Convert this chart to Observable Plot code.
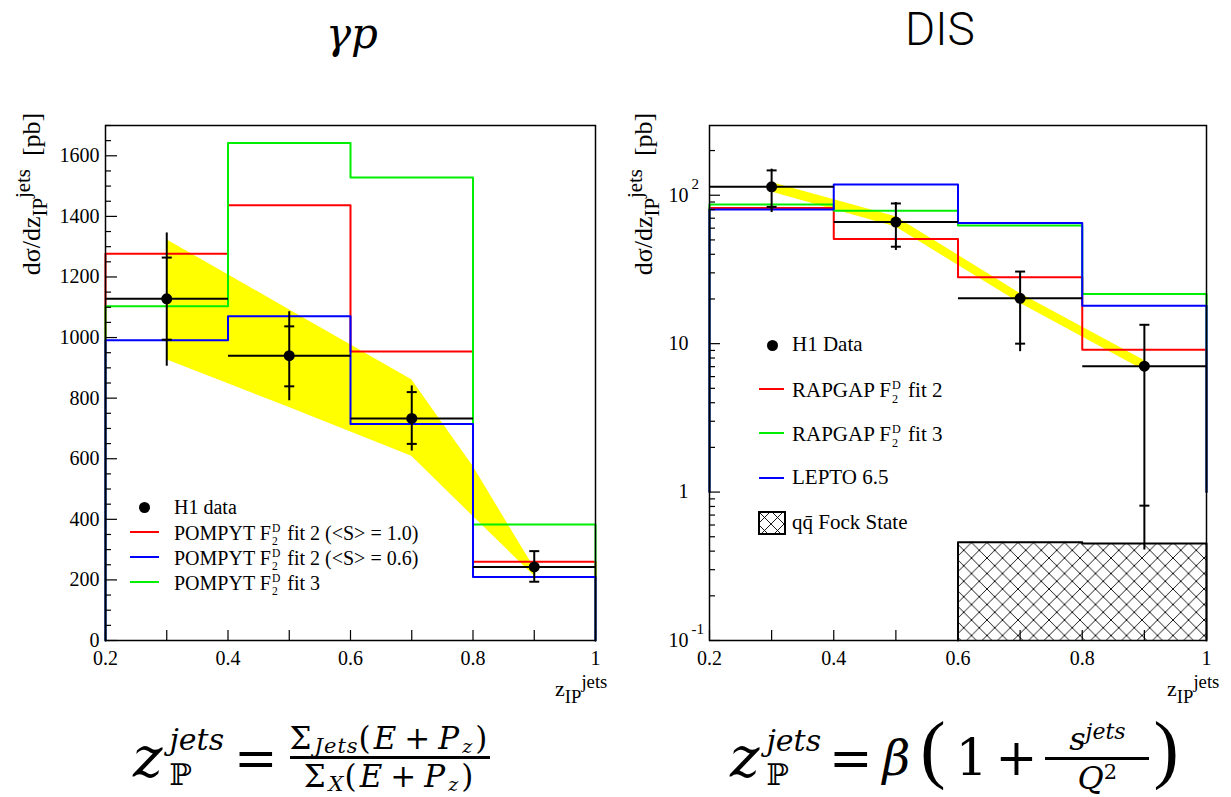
<!DOCTYPE html>
<html><head><meta charset="utf-8">
<script src="https://cdn.jsdelivr.net/npm/d3@7"></script>
<script src="https://cdn.jsdelivr.net/npm/@observablehq/plot@0.6"></script>
<style>
html,body{margin:0;padding:0;background:#fff;}
body{width:1231px;height:797px;overflow:hidden;position:relative;font-family:"Liberation Serif","Times New Roman",serif;color:#000;}
svg text{font-family:"Liberation Serif","Times New Roman",serif !important;}
.abs{position:absolute;white-space:nowrap;line-height:1;}
.ss{display:inline-flex;flex-direction:column;vertical-align:middle;font-size:0.58em;line-height:1.15;margin:0 2px 0 1px;}
.ytitle{font-size:26px;transform:translate(-50%,-50%) rotate(-90deg);}
.ytitle sub{font-size:0.8em;vertical-align:-0.35em;line-height:0;}
.ytitle sup{font-size:0.8em;vertical-align:0.5em;line-height:0;}
.xtitle{font-size:22px;}
.xtitle sub{font-size:0.85em;vertical-align:-0.4em;line-height:0;}
.xtitle sup{font-size:0.85em;vertical-align:0.45em;line-height:0;}
.formula{font-family:"DejaVu Serif",serif;display:flex;align-items:center;line-height:1;}
.formula i{font-style:italic;}
.formula sub,.formula sup{line-height:0;}
.frac{display:inline-flex;flex-direction:column;align-items:center;}
.frac .bar{height:3px;background:#000;align-self:stretch;margin:2px 0;}
.zsym{display:inline-flex;align-items:center;}
.zss{display:inline-flex;flex-direction:column;line-height:1.15;margin-left:7px;}
.paren{font-family:"Liberation Serif",serif;font-size:76px;position:relative;top:-10px;}
</style></head><body>
<script>
// ---------------- data ----------------
const binEdges = [0.2, 0.4, 0.6, 0.8, 1.0];
const binCenters = [0.3, 0.5, 0.7, 0.9];
const xTickLabels = ["0.2", "0.4", "0.6", "0.8", "1"];
const xTickLabelValues = [0.2, 0.4, 0.6, 0.8, 1.0];

// gamma p panel (linear)
const gpData    = [1128, 940, 733, 243];
const gpStatLo  = [993, 839, 649, 194];
const gpStatHi  = [1264, 1037, 820, 295];
const gpTotLo   = [907, 793, 627, 194];
const gpTotHi   = [1347, 1087, 842, 295];
const gpFit2S10 = [1277, 1437, 954, 260];
const gpFit2S06 = [991, 1070, 715, 210];
const gpFit3    = [1103, 1642, 1528, 383];
const gpBandX   = [0.3, 0.5, 0.7, 0.8, 0.9];
const gpBandLo  = [927, 769, 608, 410, 213];
const gpBandHi  = [1323, 1092, 861, 575, 240];
const gpYTicks  = [0, 200, 400, 600, 800, 1000, 1200, 1400, 1600];

// DIS panel (log)
const disData   = [114, 66, 20.2, 7.05];
const disStatLo = [83.5, 45, 10.0, 0.81];
const disStatHi = [147, 88, 30.6, 13.4];
const disTotLo  = [77, 42.8, 8.9, 0.41];
const disTotHi  = [151, 90, 30.8, 13.4];
const disFit2   = [82, 50.7, 28.0, 9.1];
const disFit3   = [86.6, 78.5, 62.5, 21.6];
const disLepto  = [80.1, 118, 65, 18.0];
const disBandX  = [0.3, 0.5, 0.7, 0.9];
const disBandLo = [105, 61, 18.7, 6.6];
const disBandHi = [122, 71.5, 21.8, 7.7];
const fockEdges = [0.6, 0.8, 1.0];
const fockVals  = [0.46, 0.45];
const logTickVals = [0.1, 1, 10, 100];
const logTickBase = ["10", "1", "10", "10"];
const logTickExp  = ["-1", "", "", "2"];

const gpLegend = ["H1 data", "POMPYT F_2^D fit 2 (<S> = 1.0)", "POMPYT F_2^D fit 2 (<S> = 0.6)", "POMPYT F_2^D fit 3"];
const disLegend = ["H1 Data", "RAPGAP F_2^D fit 2", "RAPGAP F_2^D fit 3", "LEPTO 6.5", "qq̄ Fock State"];
const colRed = "#ff0000", colGreen = "#00ee00", colBlue = "#0000ff", colYellow = "#ffff00";
const SERIF = "Liberation Serif";

// ---------------- helpers ----------------
function histPath(vals, base) {
  const pts = [{x: binEdges[0], y: base}];
  vals.forEach((v, i) => { pts.push({x: binEdges[i], y: v}); pts.push({x: binEdges[i + 1], y: v}); });
  pts.push({x: binEdges[binEdges.length - 1], y: base});
  return pts;
}
function pointRows(v, sLo, sHi, tLo, tHi) {
  return binCenters.map((x, i) => ({x, lo: binEdges[i], hi: binEdges[i + 1], v: v[i], sLo: sLo[i], sHi: sHi[i], tLo: tLo[i], tHi: tHi[i]}));
}
const capSymbol = {draw(ctx, size) { const w = Math.sqrt(size / Math.PI); ctx.moveTo(-w, 0); ctx.lineTo(w, 0); }};
function dataMarks(rows) {
  return [
    Plot.link(rows, {x1: "x", x2: "x", y1: "tLo", y2: "tHi", stroke: "black", strokeWidth: 2}),
    Plot.link(rows, {x1: "lo", x2: "hi", y1: "v", y2: "v", stroke: "black", strokeWidth: 2}),
    Plot.dot(rows, {x: "x", y: "sLo", symbol: capSymbol, r: 5, stroke: "black", strokeWidth: 2, fill: "none"}),
    Plot.dot(rows, {x: "x", y: "sHi", symbol: capSymbol, r: 5, stroke: "black", strokeWidth: 2, fill: "none"}),
    Plot.dot(rows, {x: "x", y: "v", r: 5.5, fill: "black", stroke: "none"})
  ];
}
const FW_L = 490, FW_R = 497, FH = 515;
const xTicksAll = d3.range(2, 11).map(k => k / 10);
const xAxis = () => Plot.axisX({ticks: xTickLabelValues, tickFormat: d => xTickLabels[xTickLabelValues.indexOf(d)], tickSize: 0, tickPadding: 10, label: null, fontSize: 20, fontFamily: SERIF});

// ---------------- gamma p plot ----------------
const gpRows = pointRows(gpData, gpStatLo, gpStatHi, gpTotLo, gpTotHi);
const gpBand = gpBandX.map((x, i) => ({x, lo: gpBandLo[i], hi: gpBandHi[i]}));
const gpMinor = d3.range(0, 1701, 50).filter(v => v % 200 !== 0);
const gpPlot = Plot.plot({
  width: 615, height: 700,
  marginLeft: 105, marginRight: 20, marginTop: 125, marginBottom: 60,
  x: {domain: [0.2, 1.0]},
  y: {domain: [0, 1700]},
  style: {fontFamily: SERIF, fontSize: "20px", background: "transparent", color: "black", overflow: "visible"},
  marks: [
    Plot.areaY(gpBand, {x: "x", y1: "lo", y2: "hi", fill: colYellow}),
    Plot.line(histPath(gpFit2S10, 0), {x: "x", y: "y", stroke: colRed, strokeWidth: 2}),
    Plot.line(histPath(gpFit3, 0), {x: "x", y: "y", stroke: colGreen, strokeWidth: 2}),
    Plot.line(histPath(gpFit2S06, 0), {x: "x", y: "y", stroke: colBlue, strokeWidth: 2}),
    ...dataMarks(gpRows),
    Plot.ruleY(gpYTicks, {y: d => d, insetRight: FW_L - 12, stroke: "black", strokeWidth: 1.2}),
    Plot.ruleY(gpMinor, {y: d => d, insetRight: FW_L - 6, stroke: "black", strokeWidth: 1.2}),
    Plot.ruleX(xTicksAll, {x: d => d, insetTop: FH - 10, stroke: "black", strokeWidth: 1.2}),
    Plot.frame({stroke: "black", strokeWidth: 1.5}),
    Plot.axisY({ticks: gpYTicks, tickFormat: d3.format("d"), tickSize: 0, tickPadding: 6, label: null, fontSize: 20, fontFamily: SERIF}),
    xAxis()
  ]
});
gpPlot.style.position = "absolute"; gpPlot.style.left = "0px"; gpPlot.style.top = "0px";
document.body.appendChild(gpPlot);

// ---------------- DIS plot ----------------
const disRows = pointRows(disData, disStatLo, disStatHi, disTotLo, disTotHi);
const disBand = disBandX.map((x, i) => ({x, lo: disBandLo[i], hi: disBandHi[i]}));
const logDomain = [0.1, 295];
const logMinor = [];
[0.1, 1, 10, 100].forEach(d => { for (let k = 2; k <= 9; k++) if (k * d <= logDomain[1]) logMinor.push(k * d); });
const fockRects = fockVals.map((v, i) => ({x1: fockEdges[i], x2: fockEdges[i + 1], y1: logDomain[0], y2: v}));
const fockOutline = [{x: fockEdges[0], y: logDomain[0]}];
fockVals.forEach((v, i) => { fockOutline.push({x: fockEdges[i], y: v}); fockOutline.push({x: fockEdges[i + 1], y: v}); });
fockOutline.push({x: fockEdges[fockEdges.length - 1], y: logDomain[0]});
const logLabels = logTickVals.map((v, i) => ({v, base: logTickBase[i], exp: logTickExp[i]}));

const disPlot = Plot.plot({
  width: 616, height: 700,
  marginLeft: 94, marginRight: 25, marginTop: 125, marginBottom: 60,
  x: {domain: [0.2, 1.0]},
  y: {type: "log", domain: logDomain},
  style: {fontFamily: SERIF, fontSize: "20px", background: "transparent", color: "black", overflow: "visible"},
  marks: [
    Plot.rect(fockRects, {x1: "x1", x2: "x2", y1: "y1", y2: "y2", fill: "url(#xhatch)"}),
    Plot.line(fockOutline, {x: "x", y: "y", stroke: "black", strokeWidth: 2}),
    Plot.areaY(disBand, {x: "x", y1: "lo", y2: "hi", fill: colYellow}),
    Plot.line(histPath(disFit2, 1), {x: "x", y: "y", stroke: colRed, strokeWidth: 2}),
    Plot.line(histPath(disFit3, 1), {x: "x", y: "y", stroke: colGreen, strokeWidth: 2}),
    Plot.line(histPath(disLepto, 1), {x: "x", y: "y", stroke: colBlue, strokeWidth: 2}),
    ...dataMarks(disRows),
    Plot.ruleY(logTickVals, {y: d => d, insetRight: FW_R - 11, stroke: "black", strokeWidth: 1.2}),
    Plot.ruleY(logMinor, {y: d => d, insetRight: FW_R - 6, stroke: "black", strokeWidth: 1.2}),
    Plot.ruleX(xTicksAll, {x: d => d, insetTop: FH - 10, stroke: "black", strokeWidth: 1.2}),
    Plot.frame({stroke: "black", strokeWidth: 1.5}),
    Plot.text(logLabels, {y: "v", text: "base", frameAnchor: "left", textAnchor: "end", dx: -21, fontSize: 20, fontFamily: SERIF}),
    Plot.text(logLabels.filter(d => d.exp), {y: "v", text: "exp", frameAnchor: "left", textAnchor: "start", dx: -18, dy: -11, fontSize: 15, fontFamily: SERIF}),
    xAxis(),
    Plot.axisY({ticks: [], label: null})
  ]
});
d3.select(disPlot).insert("defs", ":first-child").html(
  '<pattern id="xhatch" patternUnits="userSpaceOnUse" width="15.5" height="15.5">' +
  '<path d="M0,0L15.5,15.5M15.5,0L0,15.5" stroke="black" stroke-width="0.9" fill="none"/></pattern>');
disPlot.style.position = "absolute"; disPlot.style.left = "615px"; disPlot.style.top = "0px";
document.body.appendChild(disPlot);

// ---------------- text / legends ----------------
function esc(s) { return s.replace(/&/g, "&amp;").replace(/</g, "&lt;").replace(/>/g, "&gt;"); }
function rich(s) { return esc(s).replace("F_2^D", 'F<span class="ss"><span>D</span><span>2</span></span>'); }
function add(html, cls, left, top, extra) {
  const d = document.createElement("div");
  d.className = "abs " + (cls || "");
  d.innerHTML = html;
  d.style.left = left + "px"; d.style.top = top + "px";
  if (extra) Object.assign(d.style, extra);
  document.body.appendChild(d);
  return d;
}
function dotEl(cx, cy) { add("", "", cx - 5.5, cy - 5.5, {width: "11px", height: "11px", borderRadius: "50%", background: "black"}); }
function lineEl(x1, x2, cy, color, w) { add("", "", x1, cy - w / 2, {width: (x2 - x1) + "px", height: w + "px", background: color}); }

// left legend
const gpLegCols = [null, colRed, colBlue, colGreen];
const gpLegY = [507, 532, 557, 582];
gpLegend.forEach((lab, i) => {
  if (i === 0) dotEl(144, gpLegY[i]); else lineEl(130, 159, gpLegY[i], gpLegCols[i], 2);
  add(rich(lab), "", 174, gpLegY[i] - 10, {fontSize: "20px", lineHeight: "20px"});
});
// right legend
const disLegCols = [null, colRed, colGreen, colBlue, null];
const disLegY = [345, 389, 433, 478, 523];
disLegend.forEach((lab, i) => {
  if (i === 0) dotEl(772, disLegY[i]);
  else if (i === 4) add('<svg width="28" height="24"><defs><pattern id="xhatch2" patternUnits="userSpaceOnUse" width="13" height="13"><path d="M0,0L13,13M13,0L0,13" stroke="black" stroke-width="0.9"/></pattern></defs><rect x="1" y="1" width="26" height="22" fill="url(#xhatch2)" stroke="black" stroke-width="2"/></svg>', "", 758, disLegY[i] - 12);
  else lineEl(759, 784, disLegY[i], disLegCols[i], 2);
  add(rich(lab), "", 792, disLegY[i] - 11, {fontSize: "21px", lineHeight: "21px"});
});

// axis titles
const yTitle = 'dσ/dz<sub>IP</sub><sup>jets</sup>&nbsp; [pb]';
add(yTitle, "ytitle", 32, 194);
add(yTitle, "ytitle", 644, 194);
add('z<sub>IP</sub><sup>jets</sup>', "xtitle", 555, 678);
add('z<sub>IP</sub><sup>jets</sup>', "xtitle", 1167, 678);

// titles
add('γ<i>p</i>', "", 326, 13, {fontSize: "42px", fontStyle: "italic", fontFamily: "DejaVu Serif"});
add('DIS', "", 905, 6, {fontSize: "46px", fontFamily: "Roboto", fontWeight: "300"});

// formulas
const zHtml = '<span class="zsym"><i style="font-size:56px">z</i><span class="zss"><i style="font-size:30px">jets</i><span style="font-size:30px">ℙ</span></span></span>';
const sumPart = sub => '<span style="font-size:31px;letter-spacing:3px">Σ<sub style="font-size:21px;vertical-align:-0.2em;letter-spacing:1px"><i>' + sub + '</i></sub>(<i>E</i><span style="margin:0 5px">+</span><i>P<sub style="font-size:19px;vertical-align:-0.2em">z</sub></i>)</span>';
add(zHtml + '<span style="font-size:52px;margin:0 12px 0 10px">=</span>' +
  '<span class="frac">' + sumPart("Jets") + '<span class="bar"></span>' + sumPart("X") + '</span>',
  "formula", 133, 723);
add(zHtml + '<span style="font-size:52px;margin:0 10px 0 8px">=</span><i style="font-size:48px">β</i>' +
  '<span class="paren" style="margin:0 10px 0 10px">(</span><span style="font-size:50px">1</span><span style="font-size:50px;margin:0 8px">+</span>' +
  '<span class="frac" style="min-width:104px"><span style="font-size:32px"><i>s</i><sup style="font-size:22px;vertical-align:0.5em"><i>jets</i></sup></span><span class="bar"></span><span style="font-size:32px"><i>Q</i><sup style="font-size:21px;vertical-align:0.5em">2</sup></span></span>' +
  '<span class="paren" style="margin-left:4px">)</span>',
  "formula", 730, 720);
</script>
</body></html>
